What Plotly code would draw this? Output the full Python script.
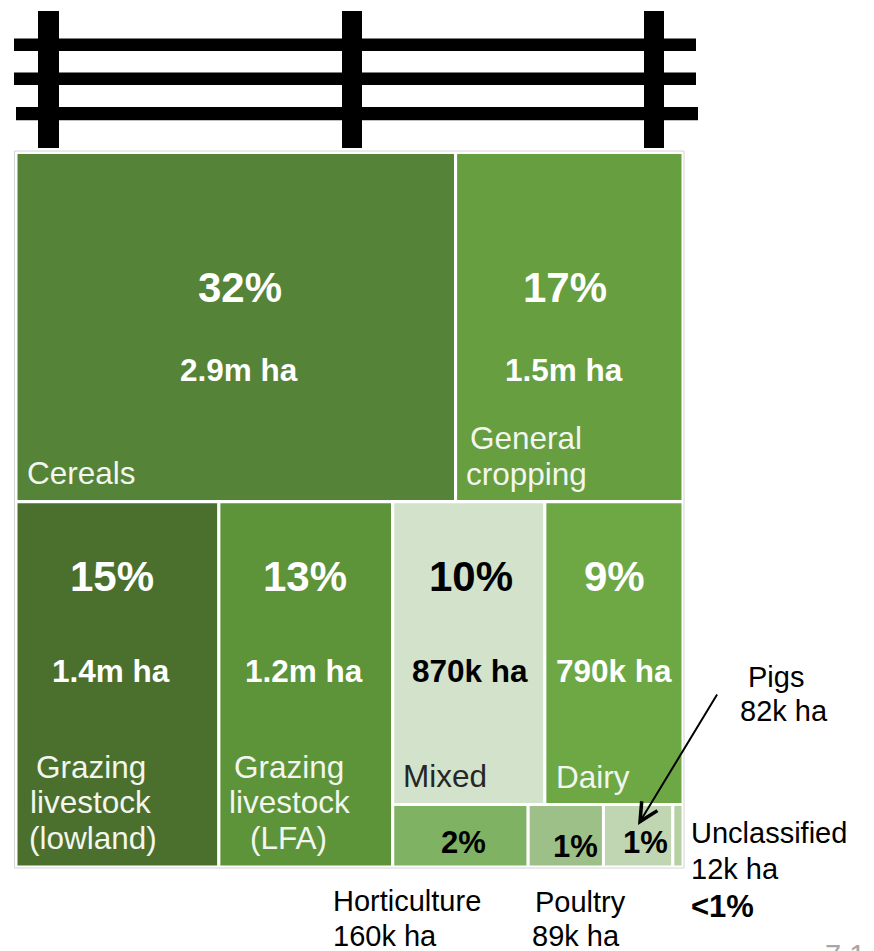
import plotly.graph_objects as go

W, H = 874, 951
FONT = "Liberation Sans"

# ---- data ----
farm_types = ["Cereals", "General cropping", "Grazing livestock (lowland)", "Grazing livestock (LFA)",
              "Mixed", "Dairy", "Horticulture", "Poultry", "Pigs", "Unclassified"]
hectares_k = [2900, 1500, 1400, 1200, 870, 790, 160, 89, 82, 12]
shares = ["32%", "17%", "15%", "13%", "10%", "9%", "2%", "1%", "1%", "<1%"]
area_labels = ["2.9m ha", "1.5m ha", "1.4m ha", "1.2m ha", "870k ha", "790k ha", "160k ha", "89k ha", "82k ha", "12k ha"]
tile_colors = ["#558337", "#669E40", "#4B6F2C", "#5D9339", "#D3E2CB", "#6DA845", "#7FB263", "#9CC087", "#C0D6B3", "#B5D0A3"]
tile_parents = ["Arable", "Arable", "Rest", "Rest", "Upper", "Upper", "Lower", "Lower", "Lower", "Lower"]

def px(x): return x / W
def py(y): return 1 - y / H

# "Block" follows the two grazing tiles in its row
ids = ["All", "Arable", "Rest"] + farm_types[:4] + ["Block", "Upper", "Lower"] + farm_types[4:]
parents = ["", "All", "All"] + tile_parents[:4] + ["Rest", "Block", "Block"] + tile_parents[4:]
values = [0, 0, 0] + hectares_k[:4] + [0, 0, 0] + hectares_k[4:]
colors = ["#FFFFFF"] * 3 + tile_colors[:4] + ["#FFFFFF"] * 3 + tile_colors[4:]

fig = go.Figure(go.Treemap(
    ids=ids, labels=ids, parents=parents, values=values,
    branchvalues="remainder", sort=False,
    textinfo="none", hoverinfo="skip",
    tiling=dict(packing="dice-slice", pad=0),
    marker=dict(colors=colors, line=dict(color="#FFFFFF", width=3), pad=dict(t=0, l=0, r=0, b=0)),
    pathbar=dict(visible=False),
    maxdepth=-1,
    domain=dict(x=[px(16), px(683)], y=[py(867), py(152.5)]),
))

shapes = []
# outer frame
shapes.append(dict(type="rect", xref="paper", yref="paper", x0=px(14.5), x1=px(684), y0=py(868), y1=py(151),
                   line=dict(color="#D4D4D4", width=1), fillcolor="rgba(0,0,0,0)"))
# fence: posts and rails
for x0, x1 in [(38, 59), (342, 362), (644, 664)]:
    shapes.append(dict(type="rect", xref="paper", yref="paper", x0=px(x0), x1=px(x1), y0=py(148), y1=py(11),
                       fillcolor="#000000", line=dict(width=0)))
for x0, x1, y0, y1 in [(14, 696, 38.5, 51), (14, 696, 72.5, 85), (16, 698, 107, 120.3)]:
    shapes.append(dict(type="rect", xref="paper", yref="paper", x0=px(x0), x1=px(x1), y0=py(y1), y1=py(y0),
                       fillcolor="#000000", line=dict(width=0)))

ann = []
def t(text, x, y, size, color="#000000", bold=False, anchor="center"):
    if anchor == "left":
        x -= 2
    ann.append(dict(text=f"<b>{text}</b>" if bold else text, x=px(x), y=py(y), xref="paper", yref="paper",
                    xanchor=anchor, yanchor="middle", showarrow=False,
                    font=dict(family=FONT, size=size, color=color)))

WH = "#FFFFFF"
BIG, MID, LAB = 42, 31.5, 31.5
for s, x, col in zip(shares[:6], [240, 565, 112, 305, 471, 614], [WH, WH, WH, WH, "#000000", WH]):
    y = 287 if s in ("32%", "17%") else 576
    t(s, x, y, BIG, col, True)
for a, x, col in zip(area_labels[:6], [239, 564, 111, 304, 470, 614], [WH, WH, WH, WH, "#000000", WH]):
    y = 370 if a in ("2.9m ha", "1.5m ha") else 671
    t(a, x, y, MID, col, True)
LIGHT = "#F2F6EE"
for txt, x, y, col in [("Cereals", 27, 473, LIGHT), ("General", 470, 438, LIGHT), ("cropping", 466, 474, LIGHT),
                       ("Grazing", 36, 767, LIGHT), ("livestock", 30, 802, LIGHT), ("(lowland)", 29, 838, LIGHT),
                       ("Grazing", 234, 767, LIGHT), ("livestock", 229, 802, LIGHT), ("(LFA)", 250, 838, LIGHT),
                       ("Mixed", 403, 776, "#262626"), ("Dairy", 556, 777, LIGHT)]:
    t(txt, x, y, LAB, col, anchor="left")
for s, x, y in [(shares[6], 463, 842), (shares[7], 575, 846), (shares[8], 645, 842)]:
    t(s, x, y, 31, "#000000", True)
for txt, x, y in [("Pigs", 748, 677), (area_labels[8], 740, 711), ("Unclassified", 691, 833), (area_labels[9], 691, 869),
                  ("Horticulture", 333, 901), (area_labels[6], 333, 936), ("Poultry", 535, 902), (area_labels[7], 532, 936)]:
    t(txt, x, y, 29, anchor="left")
t(shares[9], 691, 906, 31, "#000000", True, anchor="left")
t("7.1", 825, 955, 29, "#A6A6A6", anchor="left")

# arrow to Pigs
ann.append(dict(x=px(638), y=py(825), xref="paper", yref="paper", ax=718 - 638, ay=693 - 825,
                axref="pixel", ayref="pixel",
                showarrow=True, arrowhead=5, arrowsize=1.8, arrowwidth=2, arrowcolor="#000000", text=""))

fig.update_layout(width=W, height=H, margin=dict(l=0, r=0, t=0, b=0), paper_bgcolor="#FFFFFF",
                  showlegend=False, shapes=shapes, annotations=ann)
fig.write_html("out.html", config=dict(displayModeBar=False),
               post_script="document.body.style.margin='0';document.body.style.overflow='hidden';")
